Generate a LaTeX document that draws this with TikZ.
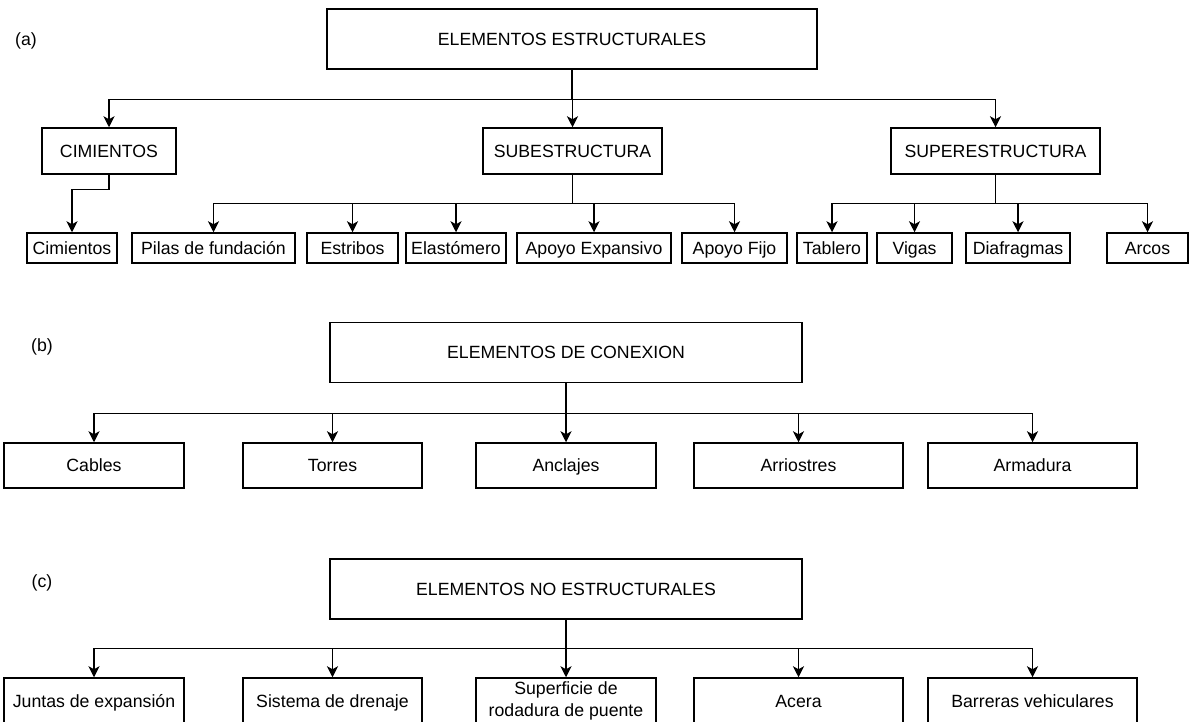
\documentclass[tikz,border=0pt]{standalone}
\usepackage{fontspec}
\setmainfont{Liberation Sans}
\usetikzlibrary{arrows.meta}

\tikzset{
  etiq/.style={font=\fontsize{17.7}{22}\selectfont},
  caja/.style={draw, line width=1.5pt, inner sep=0pt, align=center,
               text height=12.7pt, text depth=0pt, font=\fontsize{17.7}{22}\selectfont},
  grande/.style={caja, minimum height=60pt},
  media/.style={caja, minimum height=46pt},
  chica/.style={caja, minimum height=30pt},
  rama/.style={to path={-- ++(0,#1) -| (\tikztotarget)}}
}

\begin{document}
\begin{tikzpicture}[x=1pt,y=-1pt,->,>={Stealth[length=11pt,width=11pt,inset=3pt]},line width=1.2pt]
  \clip (0,0) rectangle (1189,722);

  \node[etiq]                        (la)   at (26,41)      {(a)};
  \node[grande, minimum width=490pt] (estr) at (572,39)     {ELEMENTOS ESTRUCTURALES};
  \node[media, minimum width=134pt]  (cim)  at (109,151)    {CIMIENTOS};
  \node[media, minimum width=179pt]  (sub)  at (572.5,151)  {SUBESTRUCTURA};
  \node[media, minimum width=209pt]  (sup)  at (995.5,151)  {SUPERESTRUCTURA};
  \node[chica, minimum width=90pt]   (cims) at (72,248)     {Cimientos};
  \node[chica, minimum width=163pt]  (pil)  at (213.5,248)  {Pilas de fundación};
  \node[chica, minimum width=91pt]   (est)  at (352.5,248)  {Estribos};
  \node[chica, minimum width=100pt]  (ela)  at (456,248)    {Elastómero};
  \node[chica, minimum width=154pt]  (apx)  at (594,248)    {Apoyo Expansivo};
  \node[chica, minimum width=105pt]  (apf)  at (734.5,248)  {Apoyo Fijo};
  \node[chica, minimum width=70pt]   (tab)  at (832,248)    {Tablero};
  \node[chica, minimum width=75pt]   (vig)  at (914.5,248)  {Vigas};
  \node[chica, minimum width=104pt]  (dia)  at (1018,248)   {Diafragmas};
  \node[chica, minimum width=81pt]   (arc)  at (1147.5,248) {Arcos};

  \path (estr.south) edge[rama=30] (cim)
                     edge[rama=30] (sub)
                     edge[rama=30] (sup)
        (cim.south)  edge[rama=15] (cims)
        (sub.south)  edge[rama=29] (pil)
                     edge[rama=29] (est)
                     edge[rama=29] (ela)
                     edge[rama=29] (apx)
                     edge[rama=29] (apf)
        (sup.south)  edge[rama=29] (tab)
                     edge[rama=29] (vig)
                     edge[rama=29] (dia)
                     edge[rama=29] (arc);

  \node[etiq]                        (lb)   at (42,347)     {(b)};
  \node[grande, minimum width=472pt] (con)  at (566,352.5)  {ELEMENTOS DE CONEXION};
  \node[media, minimum width=180pt, minimum height=45pt] (cab) at (94,465.5)     {Cables};
  \node[media, minimum width=179pt, minimum height=45pt] (tor) at (332.5,465.5)  {Torres};
  \node[media, minimum width=180pt, minimum height=45pt] (anc) at (566,465.5)    {Anclajes};
  \node[media, minimum width=209pt, minimum height=45pt] (arr) at (798.5,465.5)  {Arriostres};
  \node[media, minimum width=209pt, minimum height=45pt] (arm) at (1032.5,465.5) {Armadura};

  \path (con.south) edge[rama=30] (cab)
                    edge[rama=30] (tor)
                    edge[rama=30] (anc)
                    edge[rama=30] (arr)
                    edge[rama=30] (arm);

  \node[etiq]                        (lc)   at (42,583)     {(c)};
  \node[grande, minimum width=472pt] (noe)  at (566,589)    {ELEMENTOS NO ESTRUCTURALES};
  \node[media, minimum width=180pt]  (jun)  at (94,701)     {Juntas de expansión};
  \node[media, minimum width=179pt]  (dre)  at (332.5,701)  {Sistema de drenaje};
  \node[media, minimum width=180pt, text height={}, text depth={}] (sprf) at (566,701)
        {Superficie de\\rodadura de puente};
  \node[media, minimum width=209pt]  (ace)  at (798.5,701)  {Acera};
  \node[media, minimum width=209pt]  (bar)  at (1032.5,701) {Barreras vehiculares};

  \path (noe.south) edge[rama=29] (jun)
                    edge[rama=29] (dre)
                    edge[rama=29] (sprf)
                    edge[rama=29] (ace)
                    edge[rama=29] (bar);
\end{tikzpicture}
\end{document}
